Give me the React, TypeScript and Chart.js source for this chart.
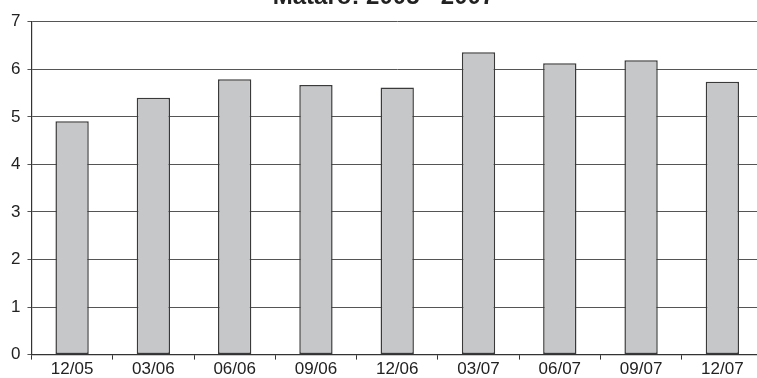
import React, { useEffect, useRef } from "react";
import { Chart, registerables } from "chart.js";

Chart.register(...registerables);

const categories = ["12/05", "03/06", "06/06", "09/06", "12/06", "03/07", "06/07", "09/07", "12/07"];
const values = [4.91, 5.4, 5.79, 5.67, 5.62, 6.36, 6.13, 6.19, 5.74];
const titleText = "Mataró: 2005 - 2007";
const yMin = 0;
const yMax = 7;
const yStep = 1;

export default function App() {
  const ref = useRef<HTMLCanvasElement | null>(null);

  useEffect(() => {
    if (!ref.current) return;
    const font = { family: "'Liberation Sans', Arial, sans-serif", size: 17 };
    const chart = new Chart(ref.current, {
      type: "bar",
      data: {
        labels: categories,
        datasets: [
          {
            data: values,
            backgroundColor: "#c6c7c9",
            borderColor: "#3a3a3a",
            borderWidth: 1.5,
            borderSkipped: false,
            barPercentage: 0.41,
            categoryPercentage: 1,
          },
        ],
      },
      options: {
        responsive: false,
        animation: false,
        devicePixelRatio: 1,
        layout: { padding: { left: 4, right: 3, top: 0, bottom: 0 } },
        plugins: {
          legend: { display: false },
          tooltip: { enabled: false },
          title: {
            display: true,
            text: titleText,
            color: "#222",
            font: { family: "'Liberation Sans', Arial, sans-serif", size: 24, weight: "bold" },
            padding: { top: 0, bottom: 10 },
          },
        },
        scales: {
          x: {
            offset: true,
            grid: {
              offset: true,
              drawOnChartArea: false,
              drawTicks: true,
              tickLength: 5,
              color: "#333",
              lineWidth: 1,
            },
            border: { display: true, color: "#333", width: 1.2 },
            ticks: { color: "#222", font, padding: 0, maxRotation: 0 },
          },
          y: {
            min: yMin,
            max: yMax,
            grid: {
              color: "#555",
              lineWidth: 1,
              drawTicks: true,
              tickLength: 4,
            },
            border: { display: true, color: "#333", width: 1.2 },
            ticks: { stepSize: yStep, color: "#222", font, padding: 7 },
          },
        },
      },
    });
    return () => chart.destroy();
  }, []);

  return (
    <div
      style={{
        position: "fixed",
        left: 0,
        top: 0,
        width: 757,
        height: 378,
        overflow: "hidden",
        background: "#fff",
      }}
    >
      <canvas
        ref={ref}
        width={766}
        height={397}
        style={{ position: "absolute", left: 0, top: -17, width: 766, height: 397 }}
      />
    </div>
  );
}
